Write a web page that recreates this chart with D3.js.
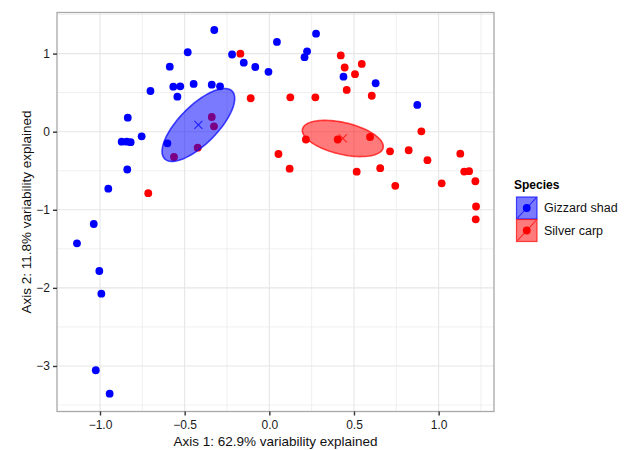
<!DOCTYPE html>
<html>
<head>
    <meta charset="utf-8">
    <title>PCoA by species</title>
    <style>
        body { margin: 0; background: #fff; }
        svg { font-family: "Liberation Sans", Arial, sans-serif; }
    </style>
</head>
<body>
    <svg width="629" height="450"></svg>

    <script src="https://cdn.jsdelivr.net/npm/d3@7"></script>
    <script>

    // scores on the first two axes
    var species = ["Gizzard shad", "Silver carp"],
        colors = ["#0000ff", "#ff0000"];

    var gizzardShad = [
        [-0.325, 1.302], [0.045, 1.149], [0.276, 1.255], [-0.482, 1.017], [-0.220, 0.988],
        [-0.151, 0.883], [-0.083, 0.828], [-0.005, 0.767], [0.223, 1.029], [0.208, 0.954],
        [0.438, 0.704], [0.628, 0.620], [0.874, 0.342], [-0.588, 0.832], [-0.567, 0.576],
        [-0.526, 0.581], [-0.447, 0.611], [-0.340, 0.602], [-0.291, 0.581], [-0.543, 0.448],
        [-0.702, 0.521], [-0.836, 0.179], [-0.754, -0.059], [-0.872, -0.128], [-0.842, -0.128],
        [-0.819, -0.134], [-0.602, -0.149], [-0.839, -0.484], [-0.951, -0.730], [-1.037, -1.182],
        [-1.136, -1.429], [-1.004, -1.784], [-0.992, -2.074], [-1.025, -3.055], [-0.943, -3.355]
    ];

    var silverCarp = [
        [-0.171, 0.999], [-0.110, 0.428], [-0.340, 0.188], [-0.327, 0.069], [-0.423, -0.205],
        [-0.563, -0.324], [0.054, -0.286], [-0.715, -0.787], [0.422, 0.976], [0.546, 0.867],
        [0.445, 0.822], [0.506, 0.736], [0.457, 0.534], [0.605, 0.460], [0.124, 0.440],
        [0.272, 0.440], [0.898, 0.005], [0.216, -0.100], [0.404, -0.100], [0.595, -0.068],
        [0.120, -0.474], [0.713, -0.251], [0.823, -0.238], [0.934, -0.365], [1.128, -0.282],
        [0.655, -0.467], [0.516, -0.512], [0.744, -0.693], [1.018, -0.661], [1.151, -0.511],
        [1.180, -0.506], [1.217, -0.635], [1.221, -0.958], [1.219, -1.122]
    ];

    // group centroids and ellipse half-axes (data units)
    var centroids = [[-0.419, 0.086], [0.434, -0.087]],
        majorAxes = [[0.199, 0.434], [0.238, -0.121]],
        minorAxes = [[0.080, -0.172], [-0.0215, -0.198]];

    var xTicks = [-1.0, -0.5, 0.0, 0.5, 1.0],
        yTicks = [1, 0, -1, -2, -3],
        xMinor = [-0.75, -0.25, 0.25, 0.75, 1.25],
        yMinor = [1.5, 0.5, -0.5, -1.5, -2.5, -3.5];

    var svg = d3.select("svg"),
        pLeft = 57, pRight = 494, pTop = 12.5, pBottom = 411.5;

    var x = d3.scaleLinear().domain([-1.254, 1.327]).range([pLeft, pRight]),
        y = d3.scaleLinear().domain([-3.583, 1.526]).range([pBottom, pTop]);

    svg.append("rect")
        .attr("x", pLeft).attr("y", pTop)
        .attr("width", pRight - pLeft).attr("height", pBottom - pTop)
        .attr("fill", "#fff");

    var grid = svg.append("g").attr("stroke", "#e6e6e6");
    grid.selectAll(".vminor").data(xMinor).enter().append("line")
        .attr("x1", x).attr("x2", x).attr("y1", pTop).attr("y2", pBottom)
        .attr("stroke-width", 0.6);
    grid.selectAll(".hminor").data(yMinor).enter().append("line")
        .attr("y1", y).attr("y2", y).attr("x1", pLeft).attr("x2", pRight)
        .attr("stroke-width", 0.6);
    grid.selectAll(".vmajor").data(xTicks).enter().append("line")
        .attr("x1", x).attr("x2", x).attr("y1", pTop).attr("y2", pBottom)
        .attr("stroke-width", 1.1);
    grid.selectAll(".hmajor").data(yTicks).enter().append("line")
        .attr("y1", y).attr("y2", y).attr("x1", pLeft).attr("x2", pRight)
        .attr("stroke-width", 1.1);

    // points
    [gizzardShad, silverCarp].forEach(function(pts, i) {
        svg.append("g").selectAll("circle").data(pts).enter().append("circle")
            .attr("cx", function(d) { return x(d[0]); })
            .attr("cy", function(d) { return y(d[1]); })
            .attr("r", 3.9)
            .attr("fill", colors[i]);
    });

    // ellipses, drawn over the points
    centroids.forEach(function(c, i) {
        var ring = d3.range(0, 361, 4).map(function(a) {
            var t = a * Math.PI / 180,
                ca = Math.cos(t), sa = Math.sin(t);
            return [x(c[0] + majorAxes[i][0] * ca + minorAxes[i][0] * sa),
                    y(c[1] + majorAxes[i][1] * ca + minorAxes[i][1] * sa)];
        });
        svg.append("path")
            .attr("d", d3.line()(ring) + "Z")
            .attr("fill", colors[i])
            .attr("fill-opacity", 0.52)
            .attr("stroke", colors[i])
            .attr("stroke-opacity", 0.7)
            .attr("stroke-width", 1.6);

        var cx = x(c[0]), cy = y(c[1]);
        svg.append("path")
            .attr("d", "M" + (cx - 4) + "," + (cy - 4) + "L" + (cx + 4) + "," + (cy + 4) +
                       "M" + (cx - 4) + "," + (cy + 4) + "L" + (cx + 4) + "," + (cy - 4))
            .attr("stroke", colors[i])
            .attr("stroke-opacity", 0.75)
            .attr("stroke-width", 1.1);
    });

    svg.append("rect")
        .attr("x", pLeft).attr("y", pTop)
        .attr("width", pRight - pLeft).attr("height", pBottom - pTop)
        .attr("fill", "none")
        .attr("stroke", "#a8a8a8")
        .attr("stroke-width", 1.3);

    // axes
    var fmt = d3.format(".1f");
    var xAxis = svg.append("g")
        .attr("transform", "translate(0," + pBottom + ")")
        .call(d3.axisBottom(x).tickValues(xTicks).tickSize(4).tickPadding(5)
            .tickFormat(function(d) { return fmt(d); }));
    var yAxis = svg.append("g")
        .attr("transform", "translate(" + pLeft + ",0)")
        .call(d3.axisLeft(y).tickValues(yTicks).tickSize(4).tickPadding(3)
            .tickFormat(d3.format("d")));

    [xAxis, yAxis].forEach(function(g) {
        g.select(".domain").remove();
        g.selectAll(".tick line").attr("stroke", "#333").attr("stroke-width", 1.4);
        g.selectAll(".tick text")
            .attr("fill", "#1a1a1a")
            .style("font-size", "12px")
            .style("font-family", "'Liberation Sans', Arial, sans-serif");
    });

    svg.append("text")
        .attr("x", (pLeft + pRight) / 2).attr("y", 446)
        .attr("text-anchor", "middle")
        .style("font-size", "13.5px")
        .attr("fill", "#111")
        .text("Axis 1: 62.9% variability explained");

    svg.append("text")
        .attr("transform", "translate(31," + (pTop + pBottom) / 2 + ") rotate(-90)")
        .attr("text-anchor", "middle")
        .style("font-size", "13.5px")
        .attr("fill", "#111")
        .text("Axis 2: 11.8% variability explained");

    // legend
    var legend = svg.append("g").attr("transform", "translate(514,0)");
    legend.append("text")
        .attr("x", 0).attr("y", 189)
        .style("font-size", "12px").style("font-weight", "bold")
        .text("Species");

    species.forEach(function(s, i) {
        var ky = 197 + i * 22.5,
            k = legend.append("g").attr("transform", "translate(2.5," + ky + ")");
        k.append("rect")
            .attr("width", 20.5).attr("height", 22)
            .attr("fill", colors[i]).attr("fill-opacity", 0.52)
            .attr("stroke", colors[i]).attr("stroke-opacity", 0.7)
            .attr("stroke-width", 1.2);
        k.append("line")
            .attr("x1", 1).attr("y1", 21).attr("x2", 19.5).attr("y2", 1)
            .attr("stroke", colors[i]).attr("stroke-opacity", 0.75)
            .attr("stroke-width", 1.1);
        k.append("circle")
            .attr("cx", 10.25).attr("cy", 11).attr("r", 3.9)
            .attr("fill", colors[i]);
        legend.append("text")
            .attr("x", 30).attr("y", ky + 15)
            .style("font-size", "12.5px")
            .attr("fill", "#111")
            .text(s);
    });

    </script>
</body>
</html>
